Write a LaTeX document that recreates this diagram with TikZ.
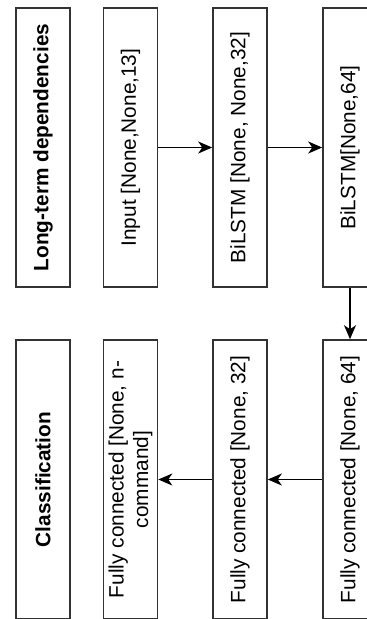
\documentclass[tikz,border=0pt]{standalone}
\usepackage{fontspec}
\setmainfont{Liberation Sans}
\usetikzlibrary{arrows.meta}

\begin{document}
\begin{tikzpicture}[
    x=1pt, y=-1pt,
    every node/.style={font=\fontsize{20.8}{24.5}\selectfont},
    layer/.style={draw=black!80, line width=1.6pt, rotate=90, minimum width=279pt, minimum height=54pt, inner sep=0pt, align=center},
    title/.style={layer, font=\fontsize{20.8}{24.5}\selectfont\bfseries},
    arrow/.style={-{Stealth[length=14pt, width=12pt, inset=4pt]}, line width=1.3pt}
]

\useasboundingbox (0,0) rectangle (367,619);
\clip (0,0) rectangle (367,619);

% === TOP ROW ===

\node[title] (longterm) at (43, 147.5) {Long-term dependencies};
\node[layer] (input) at (130.5, 147.5) {Input [None,None,13]};
\node[layer] (bilstm1) at (240, 147.5) {BiLSTM [None, None,32]};
\node[layer] (bilstm2) at (350, 147.5) {BiLSTM[None,64]};

% === BOTTOM ROW ===

\node[title] (classif) at (43, 479.5) {Classification};
\node[layer] (fcout) at (130.5, 479.5) {Fully connected [None, n-\\command]};
\node[layer] (fc32) at (240, 479.5) {Fully connected [None, 32]};
\node[layer] (fc64) at (350, 479.5) {Fully connected [None, 64]};

% === CONNECTORS ===

\draw[arrow] (input) -- (bilstm1);
\draw[arrow] (bilstm1) -- (bilstm2);
\draw[arrow] (bilstm2) -- (fc64);
\draw[arrow] (fc64) -- (fc32);
\draw[arrow] (fc32) -- (fcout);

\end{tikzpicture}
\end{document}
